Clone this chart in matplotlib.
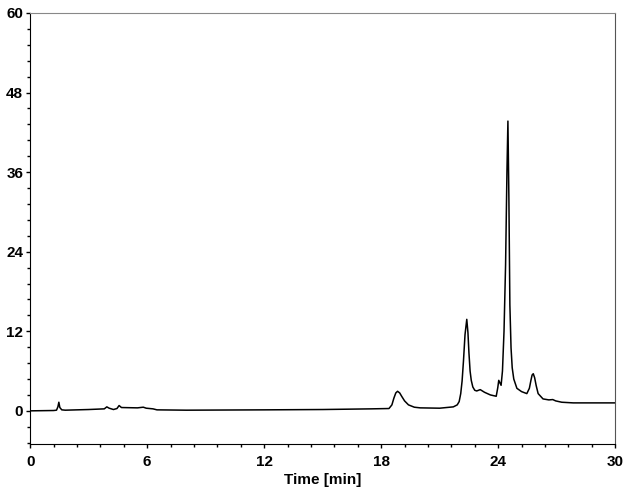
import matplotlib.pyplot as plt
from matplotlib.ticker import MultipleLocator

plt.rcParams['font.family'] = ['Liberation Sans', 'DejaVu Sans']

# retention time [min] and detector signal
time_min = [0, 1.2, 1.35, 1.42, 1.47, 1.52, 1.62, 1.8, 3.0, 3.8, 3.93, 4.05, 4.27, 4.45,
            4.56, 4.68, 5.5, 5.8, 5.95, 6.3, 6.5, 8, 12, 15, 17.5, 18.4, 18.55, 18.65,
            18.75, 18.84, 18.95, 19.05, 19.2, 19.4, 19.7, 20, 21, 21.7, 21.9, 22.0,
            22.08, 22.15, 22.22, 22.3, 22.39, 22.45, 22.5, 22.56, 22.62, 22.7, 22.8,
            22.9, 23.08, 23.3, 23.6, 23.9, 23.98, 24.03, 24.15, 24.22, 24.3, 24.38,
            24.45, 24.5, 24.55, 24.6, 24.66, 24.72, 24.8, 24.96, 25.2, 25.47, 25.6,
            25.68, 25.74, 25.8, 25.87, 25.95, 26.05, 26.3, 26.6, 26.8, 26.95, 27.26,
            27.85, 30]
signal = [0.0, 0.05, 0.1, 0.6, 1.3, 0.5, 0.15, 0.1, 0.2, 0.3, 0.6, 0.4, 0.2, 0.35,
          0.8, 0.5, 0.45, 0.55, 0.4, 0.3, 0.15, 0.1, 0.15, 0.2, 0.3, 0.35, 0.9, 1.9,
          2.7, 2.95, 2.7, 2.2, 1.5, 0.9, 0.55, 0.45, 0.4, 0.6, 0.9, 1.4, 2.6, 4.5,
          7.5, 11.5, 13.8, 11.8, 8.8, 6.0, 4.6, 3.6, 3.1, 3.0, 3.2, 2.8, 2.4, 2.2,
          3.5, 4.6, 3.85, 6.0, 12.0, 22.0, 36.0, 43.7, 32.0, 16.0, 9.5, 6.5, 4.8,
          3.4, 2.9, 2.6, 3.4, 4.6, 5.4, 5.6, 5.0, 3.8, 2.6, 1.8, 1.65, 1.7, 1.5,
          1.3, 1.2, 1.2]

xticks = [0, 6, 12, 18, 24, 30]
yticks = [0, 12, 24, 36, 48, 60]

fig = plt.figure(figsize=(6.29, 5.0), dpi=100)
ax = fig.add_axes([0.048, 0.112, 0.93, 0.862])
ax.plot(time_min, signal, color='black', linewidth=1.1)

ax.set_xlim(0, 30)
ax.set_ylim(-5, 60)
ax.set_xticks(xticks)
ax.set_yticks(yticks)
ax.xaxis.set_minor_locator(MultipleLocator(1.2))
ax.yaxis.set_minor_locator(MultipleLocator(2.4))
ax.tick_params(which='both', direction='out', labelsize=11, width=1)
ax.tick_params(which='major', length=3)
ax.tick_params(which='minor', length=2)
ax.tick_params(axis='x', which='major', pad=5)
ax.tick_params(axis='y', which='major', pad=2)
for lab in ax.get_xticklabels() + ax.get_yticklabels():
    lab.set_fontweight('bold')

ax.spines['top'].set_color('#888888')
ax.spines['right'].set_color('#555555')
ax.set_xlabel('Time [min]', fontsize=11, fontweight='bold', labelpad=3)

fig.savefig('out.png', dpi=100)
